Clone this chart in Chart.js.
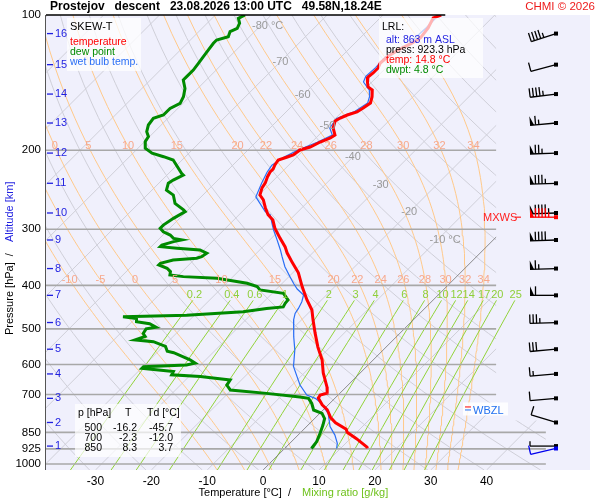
<!DOCTYPE html>
<html>
<head>
<meta charset="utf-8">
<script src="https://cdn.jsdelivr.net/npm/chart.js@4.4.1/dist/chart.umd.min.js"></script>
<style>
  body { margin: 0; background: #fff; }
</style>
</head>
<body>
<canvas id="skewt" width="600" height="500"></canvas>
<script>
// sounding profile: pressure [hPa] / temperature [°C]
const tempP = [100, 101.5, 106.9, 112.5, 116, 119.6, 123.4, 127.9, 131.2, 134.6, 137.4, 141, 144.6, 146.9, 152.2, 157, 161.1, 164.4, 167, 169.6, 172.2, 178.5, 185.1, 187.9, 191.8, 196.8, 199.8, 205, 207.1, 210.3, 215.8, 220.3, 223.7, 229.4, 236.6, 242.7, 251.7, 258.2, 269, 278.6, 286.2, 298.3, 313.9, 328.4, 338.5, 356, 375, 403, 431, 454, 478, 511, 549, 587, 627, 674, 695, 702, 713, 738, 757, 788, 809, 837, 850, 878, 917, 923.3];
const tempT = [-49.6, -50.5, -49.6, -49.2, -49.9, -51.0, -51.7, -51.9, -51.4, -51.4, -51.6, -50.8, -49.8, -48.5, -47.3, -46.5, -46.9, -47.3, -48.5, -49.2, -49.6, -48.7, -47.1, -47.4, -48.5, -49.4, -50.7, -51.0, -51.7, -52.8, -52.5, -52.1, -52.1, -51.7, -51.0, -50.7, -49.8, -48.3, -46.5, -44.8, -43.0, -41.2, -38.5, -36.0, -34.6, -31.9, -29.0, -25.8, -22.6, -19.9, -17.9, -15.2, -12.2, -9.1, -6.6, -3.4, -2.3, -3.2, -3.0, -1.1, 0.7, 2.7, 4.5, 7.6, 8.3, 11.1, 14.5, 14.8];

const dewP = [100, 101.7, 104.3, 107.1, 108.9, 111.8, 113.7, 115.6, 119.6, 123.8, 128.1, 132.6, 137.2, 139.6, 145.7, 152, 157.3, 161.4, 167, 169.9, 175.8, 181.9, 186.6, 191.4, 198, 203.1, 206.8, 210.3, 225.3, 227.2, 233.1, 237, 245.5, 251.7, 262.7, 271.7, 274.1, 283.7, 293.7, 298.5, 304, 309, 314.4, 316.8, 319.7, 325.2, 328, 330.7, 333.6, 339.2, 345.3, 348.1, 351.2, 357.1, 360.2, 366.4, 372.8, 379.2, 382.5, 385.7, 395.7, 402.6, 409.4, 416.6, 431, 438.5, 446.7, 450.3, 458, 466, 470, 474, 482, 487, 496, 500, 512, 520, 529, 534, 547, 561, 565, 586, 596, 602, 607, 612, 622, 633, 638, 650, 667, 684, 696, 709, 714, 733, 758, 771, 792, 820, 853, 891, 923.3];
const dewT = [-84.7, -85.3, -84.2, -83.7, -84.4, -83.8, -85.3, -85.3, -85.0, -84.7, -84.4, -84.1, -84.1, -84.1, -82.3, -81.1, -80.5, -81.4, -81.4, -82.6, -82.3, -81.4, -80.2, -79.9, -78.7, -76.6, -73.9, -71.6, -67.7, -67.1, -68.0, -68.3, -67.4, -65.3, -63.5, -60.8, -60.2, -61.1, -61.7, -61.7, -60.5, -58.7, -57.5, -55.7, -56.9, -58.4, -58.4, -55.1, -50.7, -48.9, -49.2, -49.8, -53.7, -55.4, -55.4, -53.3, -52.1, -51.6, -48.9, -42.6, -36.3, -33.9, -32.8, -28.0, -26.0, -25.9, -25.6, -28.3, -31.9, -41.4, -52.5, -49.8, -49.2, -46.5, -44.7, -46.2, -45.9, -45.0, -46.2, -42.6, -39.6, -38.4, -37.0, -32.8, -31.3, -32.5, -39.9, -39.9, -33.7, -33.4, -28.0, -22.0, -21.7, -20.2, -13.1, -6.5, -4.7, -3.2, -1.7, 0.4, 1.8, 2.7, 3.6, 4.5, 4.8];

const wetP = [100, 107, 116, 124, 131, 137, 141, 147, 152, 157, 164, 170, 178.5, 185, 192, 200, 207, 216, 224, 237, 254.1, 274, 278.6, 290.9, 301.1, 316.8, 333.6, 345.3, 363.5, 382.6, 395.7, 407.6, 420.2, 435, 450.3, 462, 477.8, 520.3, 557.4, 606.3, 638, 667, 702, 714, 733, 752, 771, 825, 862, 899, 923.3];
const wetT = [-50.0, -50.0, -50.3, -52.1, -51.9, -52.1, -51.5, -49.0, -47.8, -47.0, -47.8, -49.8, -49.3, -47.6, -49.0, -51.1, -52.2, -53.0, -52.6, -51.6, -50.2, -45.9, -44.4, -42.6, -41.1, -38.7, -36.3, -34.8, -32.5, -29.8, -28.0, -26.3, -24.1, -23.2, -22.6, -22.3, -21.4, -18.4, -15.8, -13.1, -10.7, -8.6, -5.6, -3.5, -1.4, 0.0, 1.5, 4.2, 6.6, 8.5, 9.3];

// diagram grid
const isobars = [100, 200, 300, 400, 500, 600, 700, 850, 925, 1000];
const tempTicks = [-30, -20, -10, 0, 10, 20, 30, 40];
const isotherms = [-120, -110, -100, -90, -80, -70, -60, -50, -40, -30, -20, -10, 10, 20, 30, 40];
const dryTheta = [230, 240, 250, 260, 270, 280, 290, 300, 310, 320, 330, 340, 350, 360, 370, 380, 390, 400, 410, 420, 430, 440, 450, 460];
const moistThetaW = [-10, -5, 0, 5, 10, 15, 20, 22, 24, 26, 28, 30, 32, 34];
const moistTopLabels = [0, 5, 10, 15, 20, 22, 24, 26, 28, 30, 32, 34];
const mixRatios = [0.2, 0.4, 0.6, 1, 2, 3, 4, 6, 8, 10, 12, 14, 17, 20, 25];
const isoLabelT = [-80, -70, -60, -50, -40, -30, -20, -10];
const isoLabelP = [106, 127, 151, 177, 207, 239, 275, 317];

// altitude marks and winds at each km
const altKm = [1, 2, 3, 4, 5, 6, 7, 8, 9, 10, 11, 12, 13, 14, 15, 16];
const altP = [912, 808, 714, 630, 555, 484, 421, 367, 317, 276, 237, 203, 174, 150, 129, 110];
const windDir = [270, 287, 265, 265, 265, 268, 270, 268, 268, 268, 268, 268, 265, 263, 255, 252];
const windSpd = [5, 10, 10, 15, 30, 35, 60, 65, 90, 95, 85, 75, 65, 45, 10, 45];

const tableP = [500, 700, 850];
const tableT = [-16.2, -2.3, 8.3];
const tableTd = [-45.7, -12.0, 3.7];

const lrlAlt = 863, lrlPress = 923.3, lrlTemp = 14.8, lrlDwpt = 4.8;
const lrlWindDir = 257, lrlWindSpd = 10;
const mxwsP = 282, mxwsDir = 270, mxwsSpd = 95;
const wbzlP = 752;

const FONT = '"Liberation Sans", Arial, Helvetica, sans-serif';
const P0 = 1031;          // pressure at the bottom edge
const SKEW = 80.4;        // °C shift per decade of pressure
const XMIN = -38.85, XMAX = 58.5;
const GRID_R = 41.7, GRID_R_LOW = 50.6;

function skewX(t, p) {
    return t + SKEW * Math.log10(P0 / p);
}

function profile(ps, ts) {
    return ps.map((p, i) => ({ x: skewX(ts[i], p), y: p }));
}

// saturated (pseudo) adiabatic lapse rate dT/dp, K/hPa
function moistLapse(p, tk) {
    const tc = tk - 273.15;
    const es = 6.112 * Math.exp((17.67 * tc) / (tc + 243.5));
    const rs = (0.622 * es) / (p - es);
    const num = (287.04 * tk + 2.501e6 * rs) / p;
    const den = 1005.7 + (2.501e6 * 2.501e6 * rs * 0.622) / (287.04 * tk * tk);
    return num / den;
}

function rk4(p, t, h) {
    const k1 = moistLapse(p, t);
    const k2 = moistLapse(p + h / 2, t + (h * k1) / 2);
    const k3 = moistLapse(p + h / 2, t + (h * k2) / 2);
    const k4 = moistLapse(p + h, t + h * k3);
    return t + (h * (k1 + 2 * k2 + 2 * k3 + k4)) / 6;
}

function moistLine(thw) {
    let tDown = thw + 273.15;
    let pd = 1000;
    for (let k = 0; k < 6; k++) {
        tDown = rk4(pd, tDown, (P0 - 1000) / 6);
        pd += (P0 - 1000) / 6;
    }
    const pts = [{ x: skewX(tDown - 273.15, P0), y: P0 }, { x: skewX(thw, 1000), y: 1000 }];
    let t = thw + 273.15;
    let p = 1000;
    let step = 0;
    while (p > 100.001) {
        const h = -Math.min(2, p - 100);
        t = rk4(p, t, h);
        p += h;
        step++;
        if (step % 5 === 0 || p <= 100.001) pts.push({ x: skewX(t - 273.15, p), y: p });
    }
    return pts;
}

function dryLine(theta) {
    const pts = [];
    for (let i = 0; i <= 40; i++) {
        const p = P0 * Math.pow(100 / P0, i / 40);
        const t = theta * Math.pow(p / 1000, 0.2857) - 273.15;
        pts.push({ x: skewX(t, p), y: p });
    }
    return pts;
}

function mixTemp(w, p) {
    const e = (w * p) / (622 + w);
    const l = Math.log(e / 6.112);
    return (243.5 * l) / (17.67 - l);
}

function mixLine(w) {
    const pts = [];
    for (let i = 0; i <= 12; i++) {
        const p = P0 * Math.pow(432 / P0, i / 12);
        pts.push({ x: skewX(mixTemp(w, p), p), y: p });
    }
    return pts;
}

function xAt(pts, p) {
    for (let i = 1; i < pts.length; i++) {
        const a = pts[i - 1], b = pts[i];
        if ((a.y - p) * (b.y - p) <= 0) {
            const f = (Math.log(p) - Math.log(a.y)) / (Math.log(b.y) - Math.log(a.y));
            return a.x + f * (b.x - a.x);
        }
    }
    return pts[pts.length - 1].x;
}

function lineSet(data, color, width, extra) {
    return Object.assign({
        data: data,
        showLine: true,
        pointRadius: 0,
        borderColor: color,
        borderWidth: width,
        fill: false,
        tension: 0,
        order: 10,
    }, extra || {});
}

const datasets = [];

datasets.push(lineSet(profile(tempP, tempT), "#ff0000", 3, { order: 0 }));
datasets.push(lineSet(profile(wetP, wetT), "#2a6ef5", 1.2, { order: 1 }));
datasets.push(lineSet(profile(dewP, dewT), "#008a00", 3, { order: 2 }));

isobars.forEach((p) => {
    if (p === 100) return;
    const right = p >= 850 ? GRID_R_LOW : GRID_R;
    datasets.push(lineSet([{ x: XMIN, y: p }, { x: right, y: p }], "#a8a8a8", 1.6, { order: 5 }));
});

isotherms.forEach((t) => {
    datasets.push(lineSet([{ x: t, y: P0 }, { x: skewX(t, 100), y: 100 }], "#cfcfd8", 1, { clipPoly: true }));
});
datasets.push(lineSet([{ x: 0, y: P0 }, { x: skewX(0, 100), y: 100 }], "#707070", 0.8, { clipPoly: true, order: 6 }));

dryTheta.forEach((th) => {
    datasets.push(lineSet(dryLine(th), "#cfcfd8", 1, { clipPoly: true }));
});

const moistLines = moistThetaW.map((thw) => moistLine(thw));
moistLines.forEach((pts) => {
    datasets.push(lineSet(pts, "#ffc98a", 1, { clipPoly: true, order: 9 }));
});

const mixLines = mixRatios.map((w) => mixLine(w));
mixLines.forEach((pts) => {
    datasets.push(lineSet(pts, "#92d33a", 1, { order: 8 }));
});

function txt(ctx, s, x, y, color, size, align, weight) {
    ctx.font = (weight || "") + " " + size + "px " + FONT;
    ctx.fillStyle = color;
    ctx.textAlign = align || "left";
    ctx.textBaseline = "middle";
    ctx.fillText(s, x, y);
}

function drawBarb(ctx, sx, sy, dir, spd, color) {
    const L = 26, F = 9, S = 3.3;
    const r = (dir * Math.PI) / 180;
    const ux = Math.sin(r), uy = -Math.cos(r);
    const fx = -uy, fy = ux;
    ctx.save();
    ctx.strokeStyle = color;
    ctx.fillStyle = color;
    ctx.lineWidth = 1.3;
    ctx.beginPath();
    ctx.moveTo(sx, sy);
    ctx.lineTo(sx + ux * L, sy + uy * L);
    ctx.stroke();
    ctx.fillRect(sx - 2, sy - 2, 4, 4);

    let v = Math.round(spd / 5) * 5;
    const flags = Math.floor(v / 50);
    v -= flags * 50;
    const full = Math.floor(v / 10);
    v -= full * 10;
    const half = v >= 5 ? 1 : 0;
    let pos = L;
    for (let i = 0; i < flags; i++) {
        const bx = sx + ux * pos, by = sy + uy * pos;
        ctx.beginPath();
        ctx.moveTo(bx, by);
        ctx.lineTo(bx + fx * F, by + fy * F);
        ctx.lineTo(bx - ux * 4, by - uy * 4);
        ctx.closePath();
        ctx.fill();
        pos -= 5.5;
    }
    for (let i = 0; i < full; i++) {
        const bx = sx + ux * pos, by = sy + uy * pos;
        ctx.beginPath();
        ctx.moveTo(bx, by);
        ctx.lineTo(bx + fx * F, by + fy * F);
        ctx.stroke();
        pos -= S;
    }
    if (half) {
        const bx = sx + ux * pos, by = sy + uy * pos;
        ctx.beginPath();
        ctx.moveTo(bx, by);
        ctx.lineTo(bx + fx * F * 0.55, by + fy * F * 0.55);
        ctx.stroke();
    }
    ctx.restore();
}

function gridClip(chart) {
    const { ctx, chartArea: a, scales } = chart;
    const xr1 = scales.x.getPixelForValue(GRID_R);
    const xr2 = scales.x.getPixelForValue(GRID_R_LOW);
    const yb = scales.y.getPixelForValue(800);
    ctx.beginPath();
    ctx.moveTo(a.left, a.top);
    ctx.lineTo(xr1, a.top);
    ctx.lineTo(xr1, yb);
    ctx.lineTo(xr2, yb);
    ctx.lineTo(xr2, a.bottom);
    ctx.lineTo(a.left, a.bottom);
    ctx.closePath();
    ctx.clip();
}

const skewPlugin = {
    id: "skewt",
    beforeDraw(chart) {
        const { ctx, chartArea: a } = chart;
        ctx.save();
        ctx.fillStyle = "#ffffff";
        ctx.fillRect(0, 0, chart.width, chart.height);
        ctx.fillStyle = "#f0f0fc";
        ctx.fillRect(a.left, a.top, a.right - a.left, a.bottom - a.top);
        ctx.restore();
    },
    beforeDatasetDraw(chart, args) {
        if (chart.data.datasets[args.index].clipPoly) {
            chart.ctx.save();
            gridClip(chart);
        }
    },
    afterDatasetDraw(chart, args) {
        if (chart.data.datasets[args.index].clipPoly) chart.ctx.restore();
    },
    afterDatasetsDraw(chart) {
        const { ctx, chartArea: a, scales } = chart;
        const X = (t, p) => scales.x.getPixelForValue(skewX(t, p));
        const Y = (p) => scales.y.getPixelForValue(p);
        ctx.save();

        // frame
        ctx.strokeStyle = "#000";
        ctx.lineWidth = 1.5;
        ctx.beginPath();
        ctx.moveTo(a.left, a.top);
        ctx.lineTo(scales.x.getPixelForValue(32.6), a.top);
        ctx.stroke();
        ctx.strokeStyle = "#555";
        ctx.lineWidth = 1;
        ctx.beginPath();
        ctx.moveTo(a.left - 0.5, a.top);
        ctx.lineTo(a.left - 0.5, a.bottom);
        ctx.stroke();

        // isotherm labels
        isoLabelT.forEach((t, i) => {
            const p = isoLabelP[i];
            const num = String(t);
            ctx.font = "11px " + FONT;
            const w = ctx.measureText(num).width;
            const s = i === 0 || i === isoLabelT.length - 1 ? num + " °C" : num;
            txt(ctx, s, X(t, p) - w / 2, Y(p), "#9a9a9a", 11);
        });

        // wet-bulb potential temperature labels
        moistThetaW.forEach((thw, i) => {
            const pts = moistLines[i];
            const xl = scales.x.getPixelForValue(xAt(pts, 389));
            txt(ctx, String(thw), xl, Y(389), "#f7a88c", 11, "center");
            if (moistTopLabels.indexOf(thw) >= 0) {
                const xt = scales.x.getPixelForValue(xAt(pts, 196));
                txt(ctx, String(thw), xt, Y(196), "#f7a88c", 11, "center");
            }
        });

        // mixing ratio labels
        mixRatios.forEach((w) => {
            const xl = X(mixTemp(w, 421), 421) - 2;
            txt(ctx, String(w), xl, Y(421), "#8fcf3a", 11, "center");
        });

        // altitude marks
        altKm.forEach((km, i) => {
            const y = Y(altP[i]);
            ctx.strokeStyle = "#1f1fe0";
            ctx.lineWidth = 1.3;
            ctx.beginPath();
            ctx.moveTo(a.left + 1, y);
            ctx.lineTo(a.left + 7, y);
            ctx.stroke();
            txt(ctx, String(km), a.left + 9, y, "#1f1fe0", 11);
        });

        // legend box
        ctx.fillStyle = "rgba(255,255,255,0.75)";
        ctx.fillRect(67, 18, 74, 53);
        txt(ctx, "SKEW-T", 70, 27, "#000", 11);
        txt(ctx, "temperature", 70, 42, "#ff0000", 10.5);
        txt(ctx, "dew point", 70, 52, "#008a00", 10.5);
        txt(ctx, "wet bulb temp.", 70, 62, "#2a6ef5", 10.5);

        // lowest reported level box
        ctx.fillStyle = "rgba(255,255,255,0.7)";
        ctx.fillRect(379, 18, 104, 60);
        txt(ctx, "LRL:", 382, 27, "#000", 10.5);
        txt(ctx, "alt: " + lrlAlt + " m ASL", 386, 40, "#1f1fe0", 10.5);
        txt(ctx, "press: " + lrlPress.toFixed(1) + " hPa", 386, 50, "#000", 10.5);
        txt(ctx, "temp: " + lrlTemp.toFixed(1) + " °C", 386, 60, "#ff0000", 10.5);
        txt(ctx, "dwpt: " + lrlDwpt.toFixed(1) + " °C", 386, 70, "#008a00", 10.5);

        // table
        ctx.fillStyle = "rgba(255,255,255,0.7)";
        ctx.fillRect(75, 404, 106, 53);
        txt(ctx, "p [hPa]", 78, 413, "#000", 10.5);
        txt(ctx, "T", 125, 413, "#000", 10.5);
        txt(ctx, "Td [°C]", 147, 413, "#000", 10.5);
        tableP.forEach((p, i) => {
            const y = 428 + i * 10;
            txt(ctx, String(p), 102, y, "#000", 10.5, "right");
            txt(ctx, tableT[i].toFixed(1), 137, y, "#000", 10.5, "right");
            txt(ctx, tableTd[i].toFixed(1), 173, y, "#000", 10.5, "right");
        });

        // wet bulb zero level
        const yw = Y(wbzlP);
        ctx.fillStyle = "rgba(255,255,255,0.85)";
        ctx.fillRect(463, yw - 6, 45, 13);
        ctx.lineWidth = 1;
        ctx.strokeStyle = "#ff0000";
        ctx.beginPath();
        ctx.moveTo(465, yw - 1.5);
        ctx.lineTo(471, yw - 1.5);
        ctx.stroke();
        ctx.strokeStyle = "#1f6ff0";
        ctx.beginPath();
        ctx.moveTo(465, yw + 1.5);
        ctx.lineTo(471, yw + 1.5);
        ctx.stroke();
        txt(ctx, "WBZL", 473, yw + 3, "#1f6ff0", 11);

        // winds
        const sx = a.right - 34;
        altKm.forEach((km, i) => {
            drawBarb(ctx, sx, Y(altP[i]), windDir[i], windSpd[i], "#000");
        });
        drawBarb(ctx, sx, Y(lrlPress), lrlWindDir, lrlWindSpd, "#0000ee");
        const ym = Y(mxwsP);
        drawBarb(ctx, sx, ym, mxwsDir, mxwsSpd, "#ff0000");
        txt(ctx, "MXWS", 483, ym + 1, "#ff2020", 11);
        ctx.strokeStyle = "#ff2020";
        ctx.lineWidth = 1.2;
        ctx.beginPath();
        ctx.moveTo(515, ym);
        ctx.lineTo(521, ym);
        ctx.stroke();

        // titles
        ctx.font = "bold 13px " + FONT;
        const title = "Prostejov   descent   23.08.2026 13:00 UTC   49.58N,18.24E";
        const tw = ctx.measureText(title).width;
        const ts = Math.min(14, (13 * 332) / tw);
        txt(ctx, title, 50, 7, "#000", ts.toFixed(2), "left", "bold");
        txt(ctx, "CHMI © 2026", 595, 7, "#ee1c1c", 11.5, "right");

        txt(ctx, "Temperature [°C]  /", 291, 493, "#000", 11, "right");
        txt(ctx, "Mixing ratio [g/kg]", 302, 493, "#6fc21c", 11, "left");

        ctx.save();
        ctx.translate(10, 0);
        ctx.rotate(-Math.PI / 2);
        txt(ctx, "Pressure [hPa]  /", -335, 0, "#000", 11, "left");
        txt(ctx, "Altitude [km]", -242, 0, "#1f1fe0", 11, "left");
        ctx.restore();

        ctx.restore();
    },
};

new Chart(document.getElementById("skewt").getContext("2d"), {
    type: "scatter",
    data: { datasets: datasets },
    options: {
        responsive: false,
        animation: false,
        events: [],
        layout: { padding: { top: 15, right: 10, bottom: 0, left: 0 } },
        plugins: { legend: { display: false }, tooltip: { enabled: false } },
        scales: {
            x: {
                type: "linear",
                min: XMIN,
                max: XMAX,
                grid: { display: false, drawTicks: false },
                border: { display: false },
                afterBuildTicks: (axis) => {
                    axis.ticks = tempTicks.map((v) => ({ value: v }));
                },
                afterFit: (axis) => {
                    axis.height = 30;
                },
                ticks: {
                    autoSkip: false,
                    maxRotation: 0,
                    padding: 4,
                    color: "#000",
                    font: { family: FONT, size: 12 },
                },
            },
            y: {
                type: "logarithmic",
                reverse: true,
                min: 100,
                max: P0,
                grid: { display: false, drawTicks: false },
                border: { display: false },
                afterBuildTicks: (axis) => {
                    axis.ticks = isobars.map((v) => ({ value: v }));
                },
                afterFit: (axis) => {
                    axis.width = 46;
                },
                ticks: {
                    autoSkip: false,
                    padding: 5,
                    color: "#000",
                    font: { family: FONT, size: 11.5 },
                    callback: (v) => String(v),
                },
            },
        },
    },
    plugins: [skewPlugin],
});
</script>
</body>
</html>
